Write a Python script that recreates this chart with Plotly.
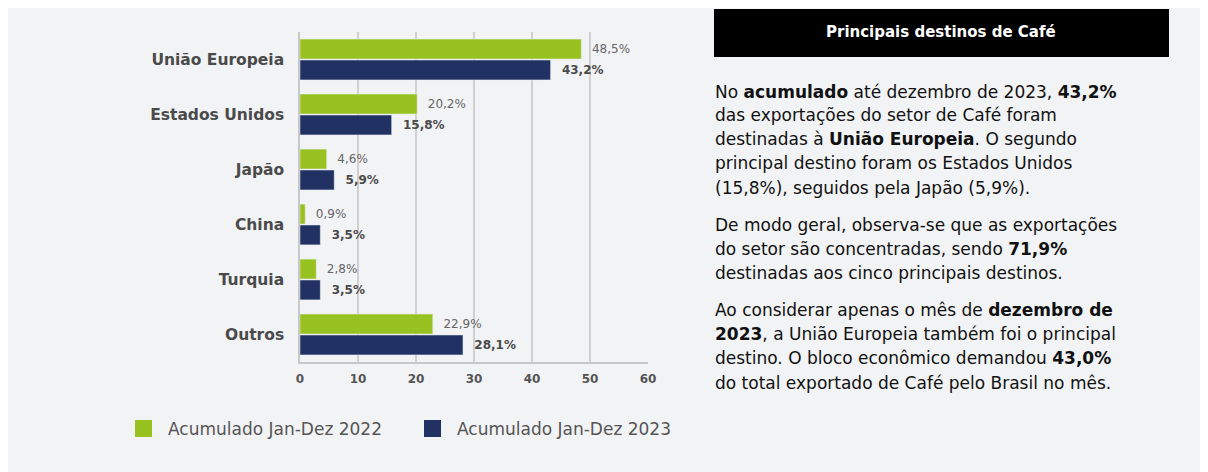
import plotly.graph_objects as go

categories = ["União Europeia", "Estados Unidos", "Japão", "China", "Turquia", "Outros"]
values_2022 = [48.5, 20.2, 4.6, 0.9, 2.8, 22.9]
values_2023 = [43.2, 15.8, 5.9, 3.5, 3.5, 28.1]
series_names = ["Acumulado Jan-Dez 2022", "Acumulado Jan-Dez 2023"]
x_ticks = [0, 10, 20, 30, 40, 50, 60]

GREEN = "#98c21f"
NAVY = "#223163"
BG = "#f2f3f5"
FONT = "DejaVu Sans"

OFF = 8  # page body margin
W, H = 1208 - OFF, 472 - OFF
# target page-pixel coordinates of the plot area
PX0, PX1, PY0, PY1 = 300, 648, 32, 362
L, R, T, B = PX0 - OFF, W - (PX1 - OFF), PY0 - OFF, H - (PY1 - OFF)
PW, PH = PX1 - PX0, PY1 - PY0


def px(x):
    return (x - PX0) / PW


def py(y):
    return (PY1 - y) / PH


def fmt(v):
    return "\u00a0\u00a0" + f"{v:.1f}".replace(".", ",") + "%"


fig = go.Figure()
fig.add_trace(go.Bar(
    y=categories, x=values_2022, orientation="h", name=series_names[0],
    marker_color=GREEN, text=[fmt(v) for v in values_2022],
    textposition="outside", textfont=dict(family=FONT, size=12, color="#666666"),
    cliponaxis=False,
))
fig.add_trace(go.Bar(
    y=categories, x=values_2023, orientation="h", name=series_names[1],
    marker_color=NAVY, text=["<b>" + fmt(v) + "</b>" for v in values_2023],
    textposition="outside", textfont=dict(family=FONT, size=12, color="#4a4a4a"),
    cliponaxis=False,
))

shapes = [
    dict(type="rect", xref="paper", yref="paper", x0=px(714), x1=px(1169), y0=py(9), y1=py(57),
         fillcolor="#000000", line_width=0, layer="above"),
    dict(type="rect", xref="paper", yref="paper", x0=px(135), x1=px(152), y0=py(420), y1=py(437),
         fillcolor=GREEN, line_width=0, layer="above"),
    dict(type="rect", xref="paper", yref="paper", x0=px(424), x1=px(441), y0=py(420), y1=py(437),
         fillcolor=NAVY, line_width=0, layer="above"),
]

annotations = [
    dict(x=px(941), y=py(32), xref="paper", yref="paper", text="<b>Principais destinos de Café</b>",
         showarrow=False, font=dict(family=FONT, size=15, color="white"), xanchor="center", yanchor="middle"),
    dict(x=px(166), y=py(429), xref="paper", yref="paper", text=series_names[0],
         showarrow=False, font=dict(family=FONT, size=17, color="#555555"), xanchor="left", yanchor="middle"),
    dict(x=px(455), y=py(429), xref="paper", yref="paper", text=series_names[1],
         showarrow=False, font=dict(family=FONT, size=17, color="#555555"), xanchor="left", yanchor="middle"),
]

lines = [
    (92, "No <b>acumulado</b> até dezembro de 2023, <b>43,2%</b>"),
    (115, "das exportações do setor de Café foram"),
    (139, "destinadas à <b>União Europeia</b>. O segundo"),
    (163, "principal destino foram os Estados Unidos"),
    (188, "(15,8%), seguidos pela Japão (5,9%)."),
    (225, "De modo geral, observa-se que as exportações"),
    (249, "do setor são concentradas, sendo <b>71,9%</b>"),
    (273, "destinadas aos cinco principais destinos."),
    (310, "Ao considerar apenas o mês de <b>dezembro de</b>"),
    (334, "<b>2023</b>, a União Europeia também foi o principal"),
    (358, "destino. O bloco econômico demandou <b>43,0%</b>"),
    (383, "do total exportado de Café pelo Brasil no mês."),
]
for yy, txt in lines:
    annotations.append(dict(x=px(713), y=py(yy), xref="paper", yref="paper", text=txt,
                            showarrow=False, font=dict(family=FONT, size=17, color="#111111"),
                            xanchor="left", yanchor="middle"))

fig.update_layout(
    width=W, height=H,
    margin=dict(l=L, r=R, t=T, b=B, pad=0),
    paper_bgcolor=BG, plot_bgcolor=BG,
    barmode="group", bargap=0.24, bargroupgap=0.05,
    showlegend=False,
    shapes=shapes, annotations=annotations,
    xaxis=dict(range=[0, 60], tickvals=x_ticks, showgrid=True, gridcolor="#d0d0d0", gridwidth=1.5,
               zeroline=False, showline=True, linecolor="#c8c8c8", linewidth=1.5,
               tickfont=dict(family=FONT, size=12, color="#555555", weight="bold"),
               ticks="", ticklabelstandoff=5, fixedrange=True),
    yaxis=dict(autorange="reversed", showgrid=False, showline=True, linecolor="#c8c8c8", linewidth=1.5,
               tickfont=dict(family=FONT, size=15.5, color="#4a4a4a", weight="bold"),
               ticks="", ticklabelstandoff=11, fixedrange=True),
)

fig.write_html("out.html")
